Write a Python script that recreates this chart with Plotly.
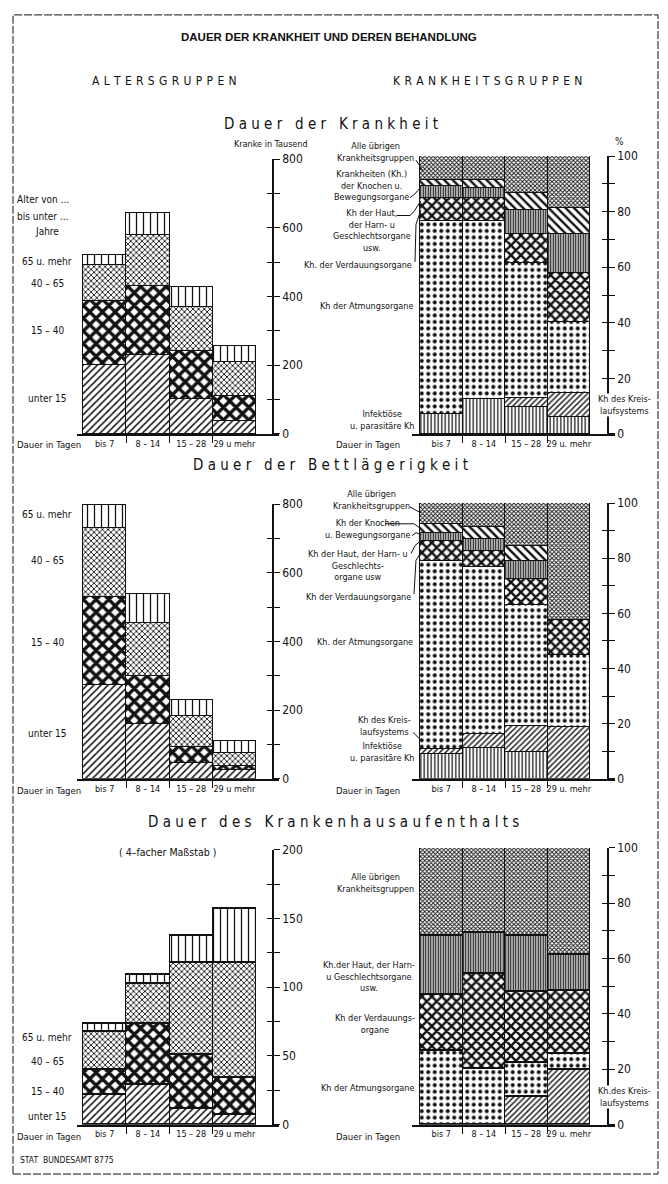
import plotly.graph_objects as go

# ---------------- data ----------------
durations = ["bis 7", "8 – 14", "15 – 28", "29 u. mehr"]
durations_left = ["bis 7", "8 – 14", "15 – 28", "29 u mehr"]

age_groups = ["unter 15", "15 – 40", "40 – 65", "65 u. mehr"]

# Dauer der Krankheit, Kranke in Tausend
krank_u15 = [200, 228, 102, 37]
krank_15_40 = [186, 203, 139, 72]
krank_40_65 = [104, 148, 129, 101]
krank_65 = [30, 63, 58, 44]

# Dauer der Bettlaegerigkeit, Kranke in Tausend
bett_u15 = [273, 160, 45, 26]
bett_15_40 = [255, 139, 48, 12]
bett_40_65 = [201, 155, 89, 37]
bett_65 = [69, 84, 46, 35]

# Dauer des Krankenhausaufenthalts, Kranke in Tausend (4-facher Massstab)
haus_u15 = [21.5, 28.7, 11.4, 7.4]
haus_15_40 = [18.5, 44.9, 39.7, 26.3]
haus_40_65 = [27.7, 29.2, 66.8, 83.9]
haus_65 = [5.3, 6.5, 19.2, 39.6]

disease_groups = ["Infektiöse u. parasitäre Kh", "Kh des Kreislaufsystems",
                  "Kh der Atmungsorgane", "Kh der Verdauungsorgane",
                  "Kh der Haut, der Harn- u. Geschlechtsorgane usw.",
                  "Kh der Knochen u. Bewegungsorgane",
                  "Alle übrigen Krankheitsgruppen"]

# percentages (bottom -> top)
krank_pct_infekt = [7.0, 12.5, 9.5, 6.0]
krank_pct_kreis = [None, None, 3.3, 8.6]
krank_pct_atmung = [69.6, 64.1, 48.7, 25.5]
krank_pct_verdau = [8.3, 8.3, 10.4, 17.6]
krank_pct_haut = [4.2, 3.4, 8.6, 14.2]
krank_pct_knochen = [2.4, 3.2, 6.2, 9.5]
krank_pct_uebrige = [8.5, 8.5, 13.3, 18.6]

bett_pct_infekt = [8.9, 11.0, 9.6, None]
bett_pct_kreis = [1.9, 5.2, 9.6, 18.6]
bett_pct_atmung = [68.3, 60.5, 43.7, 26.4]
bett_pct_verdau = [7.2, 6.0, 9.6, 12.6]
bett_pct_haut = [3.0, 4.2, 6.6, None]
bett_pct_knochen = [3.0, 4.5, 5.4, None]
bett_pct_uebrige = [7.7, 8.6, 15.5, 42.4]

haus_pct_infekt = [None, None, None, None]
haus_pct_kreis = [None, None, 10.1, 19.7]
haus_pct_atmung = [26.6, 20.3, 12.1, 6.0]
haus_pct_verdau = [20.2, 34.3, 25.6, 22.7]
haus_pct_haut = [21.5, 14.7, 20.3, 12.9]
haus_pct_knochen = [None, None, None, None]
haus_pct_uebrige = [31.7, 30.7, 31.9, 38.7]

# ---------------- styling ----------------
W, H = 668, 1184
FONT = "Liberation Sans Narrow, DejaVu Sans Condensed, Liberation Sans, Arial, sans-serif"
BLACK = "#111111"


def px(x):
    return x / W


def py(y):
    return 1 - y / H


AGE_PAT = [
    dict(shape="/", size=5, solidity=0.3),
    dict(shape="x", size=9, solidity=0.6),
    dict(shape="x", size=4, solidity=0.4),
    dict(shape="|", size=7, solidity=0.18),
]
DIS_PAT = [
    dict(shape="|", size=3.5, solidity=0.35),
    dict(shape="/", size=4, solidity=0.35),
    dict(shape=".", size=6.5, solidity=0.3),
    dict(shape="x", size=7, solidity=0.55),
    dict(shape="|", size=2.5, solidity=0.55),
    dict(shape="\\", size=6, solidity=0.4),
    dict(shape="x", size=3, solidity=0.5),
]

fig = go.Figure()

left_panels = [
    dict(series=[krank_u15, krank_15_40, krank_40_65, krank_65], base=432, top=154,
         ymax=800, step=100, lstep=200),
    dict(series=[bett_u15, bett_15_40, bett_40_65, bett_65], base=781, top=503,
         ymax=800, step=100, lstep=200),
    dict(series=[haus_u15, haus_15_40, haus_40_65, haus_65], base=1131, top=853,
         ymax=200, step=25, lstep=50),
]
right_panels = [
    dict(series=[krank_pct_infekt, krank_pct_kreis, krank_pct_atmung, krank_pct_verdau,
                 krank_pct_haut, krank_pct_knochen, krank_pct_uebrige], base=432, top=151),
    dict(series=[bett_pct_infekt, bett_pct_kreis, bett_pct_atmung, bett_pct_verdau,
                 bett_pct_haut, bett_pct_knochen, bett_pct_uebrige], base=781, top=502),
    dict(series=[haus_pct_infekt, haus_pct_kreis, haus_pct_atmung, haus_pct_verdau,
                 haus_pct_haut, haus_pct_knochen, haus_pct_uebrige], base=1131, top=851),
]

layout_axes = {}
xpos = list(range(len(durations)))


def add_panel(k, series, names, pats, base, top, ymax, step, lstep, x0, x1, bar0, barw, axis_x, labels):
    xa = f"x{k + 1}" if k else "x"
    ya = f"y{k + 1}" if k else "y"
    yo = f"y{k + 7}"
    for vals, name, pat in zip(series, names, pats):
        fig.add_trace(go.Bar(
            x=xpos, y=vals, name=name, xaxis=xa, yaxis=ya, width=1,
            marker=dict(color="white", line=dict(color=BLACK, width=1.5),
                        pattern=dict(shape=pat["shape"], size=pat["size"], solidity=pat["solidity"],
                                     fgcolor=BLACK, bgcolor="white", fillmode="replace")),
            showlegend=False, hoverinfo="skip"))
    fig.add_trace(go.Scatter(x=[None], y=[None], xaxis=xa, yaxis=yo, showlegend=False,
                             hoverinfo="skip"))
    n = len(labels)
    left = -0.5 - (bar0 - x0) / barw
    right = left + (x1 - x0) / barw
    tv = []
    v = 0
    while v <= ymax + 1e-9:
        tv.append(v)
        v += step
    tt = [(f"{int(t)}" if abs(t / lstep - round(t / lstep)) < 1e-9 else "") for t in tv]
    xname = "xaxis" + (str(k + 1) if k else "")
    yname = "yaxis" + (str(k + 1) if k else "")
    layout_axes[xname] = dict(
        domain=[px(x0), px(x1)], range=[left, right], anchor=ya,
        showline=True, linewidth=2, linecolor=BLACK, showgrid=False, zeroline=False,
        tickmode="array", tickvals=xpos, ticktext=labels, ticks="", tickangle=0,
        tickfont=dict(family=FONT, size=9, color=BLACK),
        minor=dict(tickmode="array", tickvals=[i + 0.5 for i in range(n - 1)], ticks="outside",
                   ticklen=7, tickwidth=1.2, tickcolor=BLACK),
        fixedrange=True)
    layout_axes[yname] = dict(
        domain=[py(base), py(top)], range=[0, ymax], anchor="free", position=px(axis_x),
        side="right", showline=True, linewidth=1.5, linecolor=BLACK, showgrid=False,
        zeroline=False, tickmode="array", tickvals=tv, ticktext=tt, ticks="outside",
        ticklen=6, tickwidth=1.2, tickcolor=BLACK,
        tickfont=dict(family=FONT, size=12, color=BLACK), fixedrange=True)
    layout_axes[f"yaxis{k + 7}"] = dict(
        range=[0, ymax], anchor="free", position=px(axis_x), overlaying=ya, side="right",
        showline=False, showgrid=False, zeroline=False, tickmode="array", tickvals=tv,
        ticks="inside", ticklen=6, tickwidth=1.2, tickcolor=BLACK, showticklabels=False,
        fixedrange=True)


for i, p in enumerate(left_panels):
    add_panel(i, p["series"], age_groups, AGE_PAT, p["base"], p["top"], p["ymax"], p["step"],
              p["lstep"], 77, 279, 83, 43.25, 273, durations_left)
for i, p in enumerate(right_panels):
    add_panel(i + 3, p["series"], disease_groups, DIS_PAT, p["base"], p["top"], 100, 10, 20,
              412, 615, 420, 42.5, 608, durations)

# ---------------- texts ----------------
annotations = []


def ann(x, y, text, size=9.5, xanchor="center", align="center", bg=None, family=FONT):
    d = dict(x=px(x), y=py(y), xref="paper", yref="paper", text=text, showarrow=False,
             xanchor=xanchor, yanchor="middle", align=align,
             font=dict(family=family, size=size, color=BLACK))
    if bg:
        d["bgcolor"] = bg
        d["borderpad"] = 0
    annotations.append(d)


def spaced(s, gap=" ", wgap="\u00a0\u00a0\u00a0"):
    return wgap.join(gap.join(list(w)) for w in s.split(" "))


ann(329, 30, "<b>DAUER DER KRANKHEIT UND DEREN BEHANDLUNG</b>", size=11.5,
    family="Liberation Sans, Arial, sans-serif")
ann(164, 75, spaced("ALTERSGRUPPEN", gap="\u2009\u2009"), size=12)
ann(487, 75, spaced("KRANKHEITSGRUPPEN", gap="\u2009\u2009"), size=12)
ann(331, 118, spaced("Dauer der Krankheit"), size=15)
ann(330, 463, spaced("Dauer der Bettlägerigkeit"), size=15)
ann(333, 825, spaced("Dauer des Krankenhausaufenthalts"), size=15)

ann(271, 139, "Kranke in Tausend", size=9)
ann(619, 136, "%", size=10)
ann(167, 855, "( 4–facher Maßstab )", size=10.5)
ann(18, 1167, "STAT  BUNDESAMT 8775", size=8.5, xanchor="left")

for yb in (443, 793, 1143):
    ann(15, yb, "Dauer in Tagen", size=9.5, xanchor="left")
    ann(402, yb, "Dauer in Tagen", size=9.5, xanchor="right")

# left age labels
ann(15, 195, "Alter von ...", size=10, xanchor="left")
ann(15, 212, "bis unter ...", size=10, xanchor="left")
ann(47, 227, "Jahre", size=10)
for (y65, y40, y15, yu) in ((258, 280, 327, 396), (514, 560, 643, 735), (1043, 1067, 1097, 1123)):
    ann(47, y65, "65 u. mehr", size=10)
    ann(47, y40, "40 – 65", size=10)
    ann(47, y15, "15 – 40", size=10)
    ann(47, yu, "unter 15", size=10)

# right disease labels, panel 1
ann(416, 147, "Alle übrigen<br>Krankheitsgruppen", size=9, xanchor="right")
ann(411, 181, "Krankheiten (Kh.)<br>der Knochen u.<br>Bewegungsorgane", size=9, xanchor="right")
ann(372, 226, "Kh der Haut,<br>der Harn- u<br>Geschlechtsorgane<br>usw.", size=9)
ann(414, 261, "Kh. der Verdauungsorgane", size=9, xanchor="right")
ann(415, 303, "Kh der Atmungsorgane", size=9, xanchor="right")
ann(416, 418, "Infektiöse<br>u. parasitäre Kh", size=9, xanchor="right")
ann(624, 403, "Kh des Kreis-<br>laufsystems", size=9, bg="white")

# panel 2
ann(412, 499, "Alle übrigen<br>Krankheitsgruppen", size=9, xanchor="right")
ann(413, 528, "Kh der Knochen<br>u. Bewegungsorgane", size=9, xanchor="right")
ann(410, 565, "Kh der Haut, der Harn- u<br>Geschlechts-<br>organe usw", size=9, xanchor="right")
ann(413, 597, "Kh der Verdauungsorgane", size=9, xanchor="right")
ann(415, 643, "Kh. der Atmungsorgane", size=9, xanchor="right")
ann(413, 728, "Kh des Kreis-<br>laufsystems", size=9, xanchor="right")
ann(416, 754, "Infektiöse<br>u. parasitäre Kh", size=9, xanchor="right")

# panel 3
ann(416, 886, "Alle übrigen<br>Krankheitsgruppen", size=9, xanchor="right")
ann(417, 981, "Kh.der Haut, der Harn-<br>u Geschlechtsorgane<br>usw.", size=9, xanchor="right")
ann(417, 1029, "Kh der Verdauungs-<br>organe", size=9, xanchor="right")
ann(416, 1094, "Kh der Atmungsorgane", size=9, xanchor="right")
ann(624, 1103, "Kh.des Kreis-<br>laufsystems", size=9, bg="white")

# ---------------- leader lines & frame ----------------
shapes = []


def leader(points):
    d = "M " + " L ".join(f"{px(x):.5f},{py(y):.5f}" for x, y in points)
    shapes.append(dict(type="path", path=d, xref="paper", yref="paper",
                       line=dict(color=BLACK, width=1)))


leader([(416, 155), (423, 166)])
leader([(410, 193), (415, 189), (421, 182)])
leader([(397, 211), (410, 211), (414, 207), (421, 196)])
leader([(415, 258), (416, 220), (421, 205)])
leader([(410, 506), (421, 512)])
leader([(385, 523), (414, 523), (421, 528)])
leader([(412, 535), (416, 532), (421, 534)])
leader([(411, 553), (415, 545), (421, 540)])
leader([(414, 594), (416, 560), (421, 552)])
leader([(413, 734), (421, 742)])

shapes.append(dict(type="rect", xref="paper", yref="paper", x0=px(13), x1=px(658),
                   y0=py(1181), y1=py(8), line=dict(color=BLACK, width=1, dash="8px,2px")))

fig.update_layout(
    width=W, height=H, margin=dict(l=0, r=0, t=0, b=0),
    paper_bgcolor="white", plot_bgcolor="rgba(0,0,0,0)",
    barmode="stack", bargap=0, showlegend=False,
    annotations=annotations, shapes=shapes,
    font=dict(family=FONT, color=BLACK),
    **layout_axes)

fig.write_html("out.html", config={"displayModeBar": False},
               post_script="document.body.style.margin='0';")
